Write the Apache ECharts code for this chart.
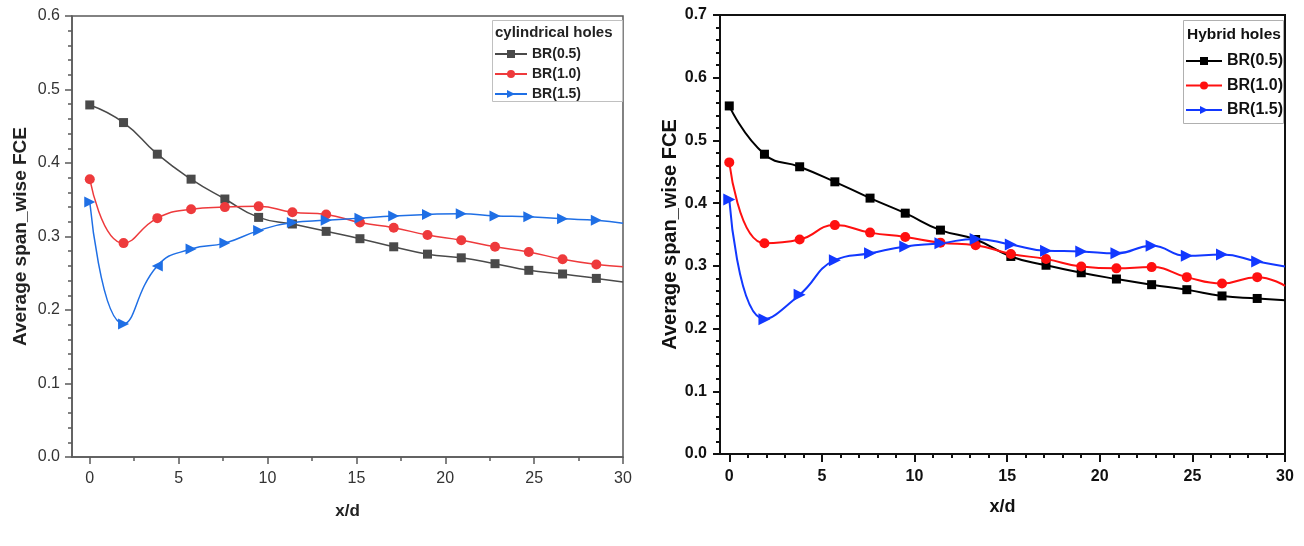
<!DOCTYPE html>
<html>
<head>
<meta charset="utf-8">
<script src="https://cdn.jsdelivr.net/npm/echarts@6/dist/echarts.min.js"></script>
<style>html,body{margin:0;padding:0;background:#fff}#c{width:1304px;height:546px}</style>
</head>
<body>
<div id="c"></div>
<script>
// ---- data ----
const xd = [0, 1.9, 3.8, 5.7, 7.6, 9.5, 11.4, 13.3, 15.2, 17.1, 19, 20.9, 22.8, 24.7, 26.6, 28.5, 30];
const xTicks = [0, 5, 10, 15, 20, 25, 30];
const cylNames = ['BR(0.5)', 'BR(1.0)', 'BR(1.5)'];
const hybNames = ['BR(0.5) ', 'BR(1.0) ', 'BR(1.5) '];
const cylBR05 = [0.479, 0.455, 0.412, 0.378, 0.351, 0.326, 0.317, 0.307, 0.297, 0.286, 0.276, 0.271, 0.263, 0.254, 0.249, 0.243, 0.238];
const cylBR10 = [0.378, 0.291, 0.325, 0.337, 0.340, 0.341, 0.333, 0.330, 0.319, 0.312, 0.302, 0.295, 0.286, 0.279, 0.269, 0.262, 0.259];
const cylBR15 = [0.347, 0.181, 0.260, 0.283, 0.291, 0.308, 0.319, 0.322, 0.325, 0.328, 0.330, 0.331, 0.328, 0.327, 0.324, 0.322, 0.318];
const hybBR05 = [0.555, 0.478, 0.458, 0.434, 0.408, 0.384, 0.357, 0.342, 0.315, 0.301, 0.289, 0.279, 0.270, 0.262, 0.252, 0.248, 0.245];
const hybBR10 = [0.465, 0.336, 0.342, 0.365, 0.353, 0.346, 0.337, 0.333, 0.319, 0.311, 0.299, 0.296, 0.298, 0.282, 0.272, 0.282, 0.268];
const hybBR15 = [0.406, 0.215, 0.254, 0.309, 0.320, 0.331, 0.336, 0.343, 0.334, 0.324, 0.323, 0.320, 0.332, 0.316, 0.318, 0.307, 0.299];
const leftMinorX = [2.5, 7.5, 12.5, 17.5, 22.5, 27.5];
const rightMinorX = [1, 2, 3, 4, 6, 7, 8, 9, 11, 12, 13, 14, 16, 17, 18, 19, 21, 22, 23, 24, 26, 27, 28, 29];

// ---- styling ----
const FL = "'Liberation Sans', Arial, sans-serif";
const FR = "'Liberation Sans', Arial, sans-serif";

function mkData(vals, rotMap) {
  return xd.map((x, i) => {
    const it = { value: [x, vals[i]] };
    if (i === xd.length - 1) it.symbol = 'none';
    if (rotMap && rotMap[i] !== undefined) it.symbolRotate = rotMap[i];
    return it;
  });
}
function mkSeries(name, vals, color, symbol, size, gi, width, rot, rotMap) {
  return {
    type: 'line', name: name, xAxisIndex: gi * 2, yAxisIndex: gi,
    data: mkData(vals, rotMap), smooth: 0.5, symbol: symbol, symbolSize: size,
    symbolRotate: rot || 0, showAllSymbol: true,
    lineStyle: { color: color, width: width }, itemStyle: { color: color },
    emphasis: { disabled: true }, animation: false
  };
}

const chart = echarts.init(document.getElementById('c'), null, { renderer: 'canvas' });

const gridL = { left: 72, top: 16, width: 551, height: 441, show: true, borderColor: '#5a5a5a', borderWidth: 1.5, backgroundColor: '#fff' };
const gridR = { left: 720, top: 15, width: 565, height: 439, show: true, borderColor: '#111', borderWidth: 2, backgroundColor: '#fff' };

function xMain(gi, min, col, lw, font, fs, fw, margin, tickLen) {
  return {
    type: 'value', gridIndex: gi, min: min, max: 30, position: 'bottom',
    name: 'x/d', nameLocation: 'middle', nameGap: gi === 0 ? 46 : 44,
    nameTextStyle: { fontFamily: FL, fontWeight: 'bold', fontSize: gi === 0 ? 17 : 18, color: gi === 0 ? '#222' : '#111' },
    axisLine: { show: true, onZero: false, lineStyle: { color: col, width: lw } },
    axisTick: { show: true, length: tickLen, customValues: xTicks, lineStyle: { color: col, width: lw } },
    axisLabel: { show: true, customValues: xTicks, margin: margin, fontFamily: font, fontSize: fs, fontWeight: fw, color: gi === 0 ? '#333' : '#111' },
    splitLine: { show: false }
  };
}
function xMinor(gi, min, col, lw, vals) {
  return {
    type: 'value', gridIndex: gi, min: min, max: 30, position: 'bottom',
    axisLine: { show: false, onZero: false },
    axisTick: { show: true, length: 4, customValues: vals, lineStyle: { color: col, width: lw } },
    axisLabel: { show: false }, splitLine: { show: false }
  };
}
function yAx(gi, max, col, lw, font, fs, fw, margin, nameGap, nameFs) {
  return {
    type: 'value', gridIndex: gi, min: 0, max: max, interval: 0.1, position: 'left',
    name: 'Average span_wise FCE', nameLocation: 'middle', nameGap: nameGap,
    nameTextStyle: { fontFamily: FL, fontWeight: 'bold', fontSize: nameFs, color: gi === 0 ? '#222' : '#111' },
    axisLine: { show: true, onZero: false, lineStyle: { color: col, width: lw } },
    axisTick: { show: true, length: 7, lineStyle: { color: col, width: lw } },
    minorTick: { show: true, splitNumber: 5, length: 4, lineStyle: { color: col, width: lw } },
    axisLabel: { margin: margin, fontFamily: font, fontSize: fs, fontWeight: fw, color: gi === 0 ? '#333' : '#111',
      formatter: v => v.toFixed(1) },
    splitLine: { show: false }, minorSplitLine: { show: false }
  };
}

const option = {
  animation: false,
  backgroundColor: '#fff',
  grid: [gridL, gridR],
  xAxis: [
    xMain(0, -1, '#5a5a5a', 1.5, FL, 16, 'normal', 14, 7),
    xMinor(0, -1, '#5a5a5a', 1.5, leftMinorX),
    xMain(1, -0.5, '#111', 2, FR, 16, 'bold', 15, 8),
    xMinor(1, -0.5, '#111', 2, rightMinorX)
  ],
  yAxis: [
    yAx(0, 0.6, '#5a5a5a', 1.5, FL, 16, 'normal', 12, 42, 19),
    yAx(1, 0.7, '#111', 2, FR, 16, 'bold', 13, 37, 20)
  ],
  legend: [
    {
      data: cylNames, left: 494, top: 47, orient: 'vertical', itemWidth: 32, itemHeight: 10, itemGap: 6,
      padding: 0, selectedMode: false,
      textStyle: { fontFamily: FL, fontWeight: 'bold', fontSize: 14, lineHeight: 14, color: '#222' }
    },
    {
      data: hybNames, left: 1185, top: 52, orient: 'vertical', itemWidth: 36, itemHeight: 10, itemGap: 6.5,
      padding: 0, selectedMode: false, formatter: n => n.trim(),
      textStyle: { fontFamily: FR, fontWeight: 'bold', fontSize: 16, lineHeight: 18, color: '#111' }
    }
  ],
  graphic: [
    { type: 'rect', left: 492, top: 20, z: 3, shape: { width: 130, height: 81 }, style: { fill: '#fff', stroke: '#c0c0c0', lineWidth: 1 } },
    { type: 'text', left: 495, top: 25, z: 5, style: { text: 'cylindrical holes', font: "bold 15px 'Liberation Sans', Arial, sans-serif", fill: '#222' } },
    { type: 'rect', left: 1183, top: 20, z: 3, shape: { width: 100, height: 103 }, style: { fill: '#fff', stroke: '#b0b0b0', lineWidth: 1 } },
    { type: 'text', left: 1187, top: 27, z: 5, style: { text: 'Hybrid holes', font: "bold 15.5px 'Liberation Sans', Arial, sans-serif", fill: '#111' } }
  ],
  series: [
    mkSeries(cylNames[0], cylBR05, '#4a4a4a', 'rect', 9, 0, 1.5),
    mkSeries(cylNames[1], cylBR10, '#ee3a3c', 'circle', 10, 0, 1.5),
    mkSeries(cylNames[2], cylBR15, '#1f6fe5', 'triangle', 11, 0, 1.5, -90, { 2: 90 }),
    mkSeries(hybNames[0], hybBR05, '#000000', 'rect', 9, 1, 2),
    mkSeries(hybNames[1], hybBR10, '#ff1010', 'circle', 10, 1, 2),
    mkSeries(hybNames[2], hybBR15, '#1238ff', 'triangle', 12, 1, 2, -90)
  ]
};
chart.setOption(option);
</script>
</body>
</html>
